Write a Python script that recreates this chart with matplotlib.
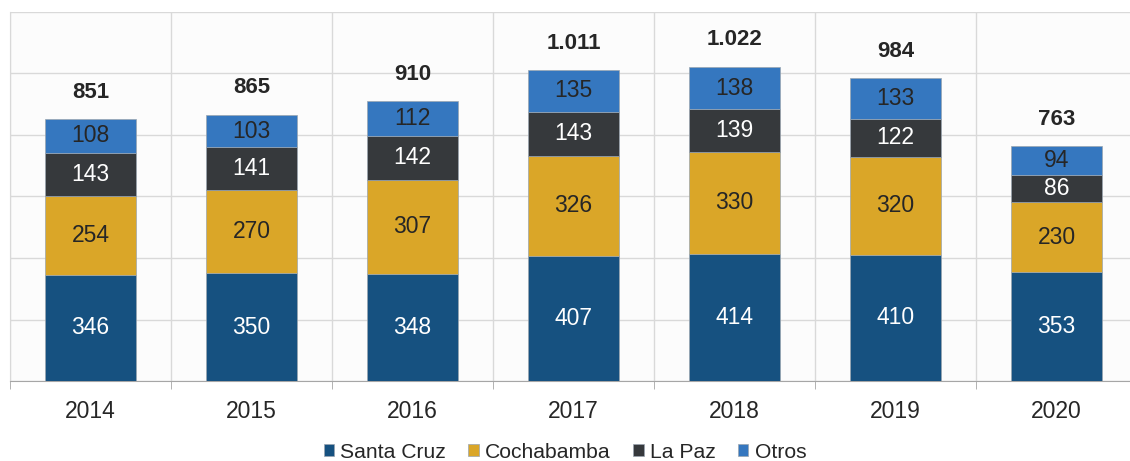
import numpy as np
import matplotlib.pyplot as plt
from matplotlib.ticker import MultipleLocator, FixedLocator

plt.rcParams['font.family'] = ['Liberation Sans', 'DejaVu Sans']

years = ['2014', '2015', '2016', '2017', '2018', '2019', '2020']
santa_cruz = [346, 350, 348, 407, 414, 410, 353]
cochabamba = [254, 270, 307, 326, 330, 320, 230]
la_paz = [143, 141, 142, 143, 139, 122, 86]
otros = [108, 103, 112, 135, 138, 133, 94]
totals = [851, 865, 910, 1011, 1022, 984, 763]

series = [
    ('Santa Cruz', santa_cruz, '#165180', 'white'),
    ('Cochabamba', cochabamba, '#daa628', '#262626'),
    ('La Paz', la_paz, '#36393c', 'white'),
    ('Otros', otros, '#3577bf', '#262626'),
]

fig = plt.figure(figsize=(11.3, 4.61), dpi=100)
ax = fig.add_axes([10 / 1130, 80 / 461, 1127 / 1130, 369 / 461])
ax.set_facecolor('#fcfcfc')

x = np.arange(len(years))
bottom = np.zeros(len(years))
for name, vals, color, tcolor in series:
    vals = np.array(vals)
    ax.bar(x, vals, width=0.56, bottom=bottom, color=color,
           edgecolor='#9aa5b0', linewidth=0.5, label=name, zorder=3)
    for xi, b, v in zip(x, bottom, vals):
        ax.text(xi, b + v / 2, str(v), ha='center', va='center',
                color=tcolor, fontsize=16.5, zorder=4)
    bottom += vals

for xi, t in zip(x, totals):
    lab = f'{t:,}'.replace(',', '.')
    ax.annotate(lab, (xi, t), xytext=(0, 19.5), textcoords='offset points',
                ha='center', va='center', fontsize=16, fontweight='bold',
                color='#262626')

ax.set_xlim(-0.5, len(years) - 0.5)
ax.set_ylim(0, 1200)
ax.yaxis.set_major_locator(MultipleLocator(200))
ax.set_yticklabels([])
ax.tick_params(axis='y', length=0)
ax.grid(axis='y', color='#d9d9d9', linewidth=1, zorder=0)

ax.set_xticks(x)
ax.set_xticklabels(years, fontsize=16.5, color='#262626')
ax.tick_params(axis='x', which='major', length=0, pad=14)
ax.xaxis.set_minor_locator(FixedLocator(np.arange(-0.5, len(years), 1.0)))
ax.tick_params(axis='x', which='minor', length=6, direction='out', color='#a6a6a6')
ax.grid(axis='x', which='minor', color='#d9d9d9', linewidth=1, zorder=0)

for s in ['top', 'right']:
    ax.spines[s].set_visible(False)
ax.spines['left'].set_color('#d9d9d9')
ax.spines['bottom'].set_color('#a6a6a6')

fig.legend(loc='center', bbox_to_anchor=(0.5, 9 / 461), ncol=4, frameon=False,
           fontsize=15.2, handlelength=0.5, handleheight=0.55, handletextpad=0.3,
           columnspacing=1.05, labelcolor='#262626')

fig.savefig('out.png', dpi=100)
